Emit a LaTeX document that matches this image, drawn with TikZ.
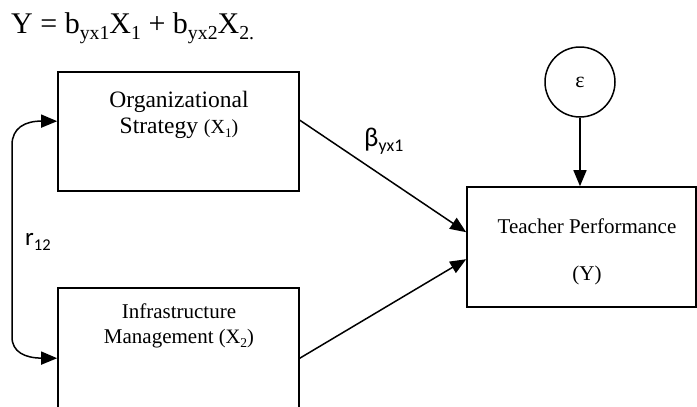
\documentclass[tikz,border=0pt]{standalone}
\usepackage{fontspec}
\setmainfont{Liberation Serif}
\newfontfamily\calfont{Carlito}
\usetikzlibrary{arrows.meta,calc}
\newcommand\mysub[1]{\raisebox{-0.22em}{\scalebox{0.66}{#1}}}
\begin{document}
\begin{tikzpicture}[x=1pt,y=-1pt,
  box/.style={draw,line width=1.6pt,rectangle,inner sep=0pt},
  lbl/.style={inner sep=0pt,anchor=base,font=\fontsize{21}{25}\selectfont},
  tip/.style={},
  arr/.style={line width=1.5pt,-{Triangle[length=16pt,width=13pt]}},
  dbl/.style={line width=1.5pt,{Triangle[length=16pt,width=13pt]}-{Triangle[length=16pt,width=13pt]}}]
\useasboundingbox (0,0) rectangle (697,407);
\clip (0,0) rectangle (697,407);
% equation
\node[inner sep=0pt,anchor=base west,font=\fontsize{30}{35}\selectfont] (eq) at (11,33)
  {Y = b\mysub{yx1}X\mysub{1} + b\mysub{yx2}X\mysub{2.}};
% boxes
\node[box,minimum width=241pt,minimum height=119pt] (a) at (178.5,131.5) {};
\node[box,minimum width=241pt,minimum height=132pt] (b) at (178.5,354) {};
\node[box,minimum width=229pt,minimum height=120pt] (y) at (581.5,247) {};
\node[draw,circle,line width=1.5pt,minimum size=70pt,inner sep=0pt] (e) at (580,82)
  {\fontsize{22}{26}\selectfont ε};
% texts
\node[lbl,font=\fontsize{23.5}{28}\selectfont] (a1) at (179,107) {Organizational};
\node[lbl,font=\fontsize{23.5}{28}\selectfont] (a2) at (179,133) {Strategy {\fontsize{20}{24}\selectfont(X\mysub{1})}};
\node[lbl] (b1) at (179,318) {Infrastructure};
\node[lbl] (b2) at (179,343) {Management {\fontsize{20.5}{24}\selectfont(X\mysub{2})}};
\node[lbl] (y1) at (587,233) {Teacher Performance};
\node[lbl] (y2) at (587,280) {(Y)};
\node[inner sep=0pt,anchor=base west,font=\calfont\fontsize{27}{32}\selectfont] (beta) at (364,146) {β\mysub{yx1}};
\node[inner sep=0pt,anchor=base west,font=\calfont\fontsize{25}{30}\selectfont] (r) at (25,245) {r\mysub{12}};
% connectors
\draw[arr] ($(a.north east)+(0,49)$) -- ($(y.north west)+(0,46)$);
\draw[arr] ($(b.north east)+(0,71)$) -- ($(y.north west)+(0,73)$);
\draw[arr] (e.south) -- (e.south |- y.north);
\coordinate (t1) at (12,145);
\coordinate (t2) at (12,337);
\draw[dbl] ($(a.north west)+(0,50)$) .. controls (25,121) and (12,128) .. (t1) -- (t2)
  .. controls (12,352) and (25,358) .. ($(b.north west)+(0,71)$);
\end{tikzpicture}
\end{document}
